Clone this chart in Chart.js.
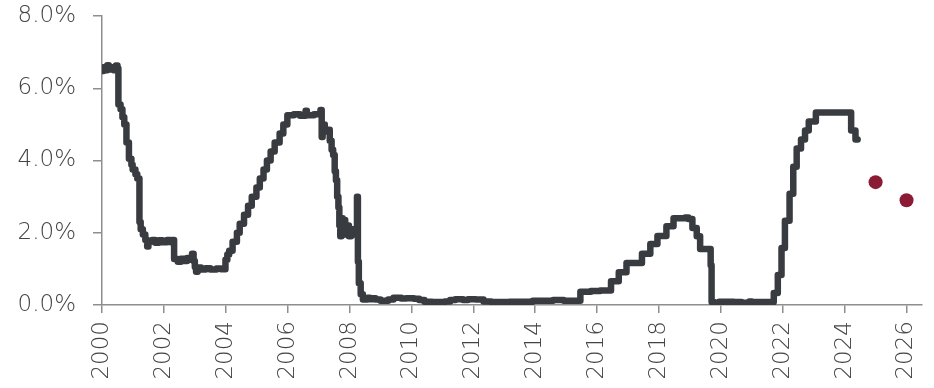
<!DOCTYPE html>
<html>
<head>
<meta charset="utf-8">
<script src="https://cdn.jsdelivr.net/npm/chart.js@4.4.1/dist/chart.umd.min.js"></script>
<style>
  html, body { margin: 0; padding: 0; background: #ffffff; }
  #wrap { width: 934px; height: 388px; }
</style>
</head>
<body>
<div id="wrap"><canvas id="rateChart" width="934" height="388"></canvas></div>
<script>
// Effective policy rate: each point starts a new level (stepped line)
const rateYears = [
  2000.00, 2000.05, 2000.12, 2000.17, 2000.22, 2000.30, 2000.38, 2000.45, 2000.50,
  2000.53, 2000.60, 2000.66, 2000.72, 2000.79, 2000.87, 2000.95, 2000.99, 2001.08,
  2001.14, 2001.21, 2001.25, 2001.32, 2001.40, 2001.46, 2001.50, 2001.62, 2001.72,
  2001.84, 2001.95, 2002.10, 2002.22, 2002.28, 2002.33, 2002.45, 2002.55, 2002.65,
  2002.75, 2002.86, 2002.91, 2002.96, 2003.00, 2003.04, 2003.09, 2003.20, 2003.35,
  2003.50, 2003.70, 2003.85, 2003.99, 2004.05, 2004.11, 2004.22, 2004.36, 2004.45,
  2004.59, 2004.72, 2004.84, 2004.99, 2005.10, 2005.22, 2005.33, 2005.45, 2005.58,
  2005.74, 2005.86, 2005.99, 2006.20, 2006.40, 2006.58, 2006.62, 2006.85, 2007.06,
  2007.10, 2007.13, 2007.20, 2007.30, 2007.36, 2007.42, 2007.47, 2007.52, 2007.56,
  2007.60, 2007.64, 2007.67, 2007.70, 2007.74, 2007.78, 2007.82, 2007.86, 2007.92,
  2007.98, 2008.05, 2008.12, 2008.18, 2008.24, 2008.27, 2008.30, 2008.36, 2008.43,
  2008.58, 2008.66, 2008.75, 2008.84, 2009.00, 2009.25, 2009.42, 2009.67, 2009.83,
  2010.08, 2010.25, 2010.42, 2010.67, 2011.08, 2011.25, 2011.42, 2011.67, 2011.83,
  2012.08, 2012.33, 2012.58, 2012.92, 2013.17, 2013.50, 2013.92, 2014.25, 2014.58,
  2014.92, 2015.46, 2015.80, 2016.10, 2016.45, 2016.70, 2016.95, 2017.45, 2017.72,
  2017.95, 2018.24, 2018.47, 2018.85, 2018.95, 2019.08, 2019.22, 2019.33, 2019.67,
  2019.70, 2019.78, 2019.95, 2020.42, 2020.67, 2020.92, 2021.00, 2021.71, 2021.84,
  2021.96, 2022.07, 2022.22, 2022.34, 2022.45, 2022.59, 2022.72, 2022.84, 2023.07,
  2024.21, 2024.35, 2024.42
];
const rateValues = [
  6.48, 6.58, 6.50, 6.64, 6.52, 6.58, 6.50, 6.63, 6.55,
  5.55, 5.42, 5.20, 5.00, 4.50, 4.05, 3.88, 3.75, 3.62,
  3.50, 2.30, 2.10, 1.95, 1.80, 1.62, 1.76, 1.80, 1.72,
  1.79, 1.74, 1.80, 1.74, 1.80, 1.27, 1.20, 1.28, 1.22,
  1.30, 1.25, 1.42, 1.22, 1.05, 0.92, 1.04, 0.98, 1.02,
  0.98, 1.01, 0.99, 1.25, 1.40, 1.50, 1.75, 2.00, 2.25,
  2.50, 2.75, 3.00, 3.25, 3.50, 3.75, 4.00, 4.25, 4.50,
  4.75, 5.00, 5.25, 5.28, 5.24, 5.38, 5.25, 5.28, 5.40,
  4.65, 5.00, 4.80, 4.85, 4.55, 4.30, 4.15, 3.70, 3.45,
  3.00, 2.70, 2.20, 1.90, 2.40, 2.00, 2.35, 1.95, 2.20,
  1.90, 2.10, 1.95, 2.05, 3.00, 1.20, 0.60, 0.30, 0.15,
  0.20, 0.16, 0.19, 0.15, 0.12, 0.15, 0.20, 0.18, 0.19,
  0.17, 0.14, 0.09, 0.08, 0.10, 0.14, 0.16, 0.14, 0.16,
  0.15, 0.10, 0.08, 0.08, 0.09, 0.09, 0.12, 0.12, 0.14,
  0.12, 0.37, 0.39, 0.40, 0.66, 0.91, 1.16, 1.42, 1.69,
  1.91, 2.18, 2.40, 2.42, 2.38, 2.13, 1.90, 1.55, 1.10,
  0.08, 0.05, 0.09, 0.08, 0.06, 0.10, 0.08, 0.33, 0.83,
  1.58, 2.33, 3.08, 3.83, 4.33, 4.58, 4.83, 5.08, 5.33,
  4.83, 4.58, 4.58
];

// Year-end projections
const projectionYears = [2025, 2026];
const projectionValues = [3.4, 2.9];

// Axis ticks
const yearTicks = [2000, 2002, 2004, 2006, 2008, 2010, 2012, 2014, 2016, 2018, 2020, 2022, 2024, 2026];
const percentTicks = [0, 2, 4, 6, 8];

const axisGray = '#8e8e8e';
const labelGray = '#444444';
const labelFont = { family: '"DejaVu Sans", sans-serif', size: 23, weight: 200 };

new Chart(document.getElementById('rateChart'), {
  type: 'line',
  data: {
    datasets: [
      {
        data: rateYears.map((x, i) => ({ x: x, y: rateValues[i] })),
        borderColor: '#383b3f',
        borderWidth: 6.5,
        stepped: 'before',
        pointRadius: 0,
        borderCapStyle: 'round',
        borderJoinStyle: 'round',
        fill: false
      },
      {
        data: projectionYears.map((x, i) => ({ x: x, y: projectionValues[i] })),
        showLine: false,
        pointRadius: 7,
        pointHoverRadius: 7,
        pointBackgroundColor: '#8b1b35',
        pointBorderWidth: 0
      }
    ]
  },
  options: {
    responsive: false,
    animation: false,
    devicePixelRatio: 1,
    layout: { padding: { top: 16, right: 12, left: 0, bottom: 0 } },
    plugins: { legend: { display: false }, tooltip: { enabled: false } },
    scales: {
      x: {
        type: 'linear',
        min: 2000,
        max: 2026.5,
        afterBuildTicks: s => { s.ticks = yearTicks.map(v => ({ value: v })); },
        afterFit: s => { s.height = 83; s.paddingLeft = 0; s.paddingRight = 0; },
        ticks: {
          autoSkip: false,
          minRotation: 90,
          maxRotation: 90,
          padding: 8,
          color: labelGray,
          font: labelFont,
          callback: v => String(v)
        },
        grid: { drawOnChartArea: false, drawTicks: true, tickLength: 8, color: axisGray, lineWidth: 1.5 },
        border: { display: true, color: axisGray, width: 1.5 }
      },
      y: {
        min: 0,
        max: 8,
        afterBuildTicks: s => { s.ticks = percentTicks.map(v => ({ value: v })); },
        afterFit: s => { s.width = 102; s.paddingTop = 0; s.paddingBottom = 0; },
        ticks: {
          padding: 17,
          color: labelGray,
          font: labelFont,
          callback: v => v.toFixed(1) + '%'
        },
        grid: { drawOnChartArea: false, drawTicks: true, tickLength: 9, color: axisGray, lineWidth: 1.5 },
        border: { display: true, color: axisGray, width: 1.5 }
      }
    }
  }
});
</script>
</body>
</html>
